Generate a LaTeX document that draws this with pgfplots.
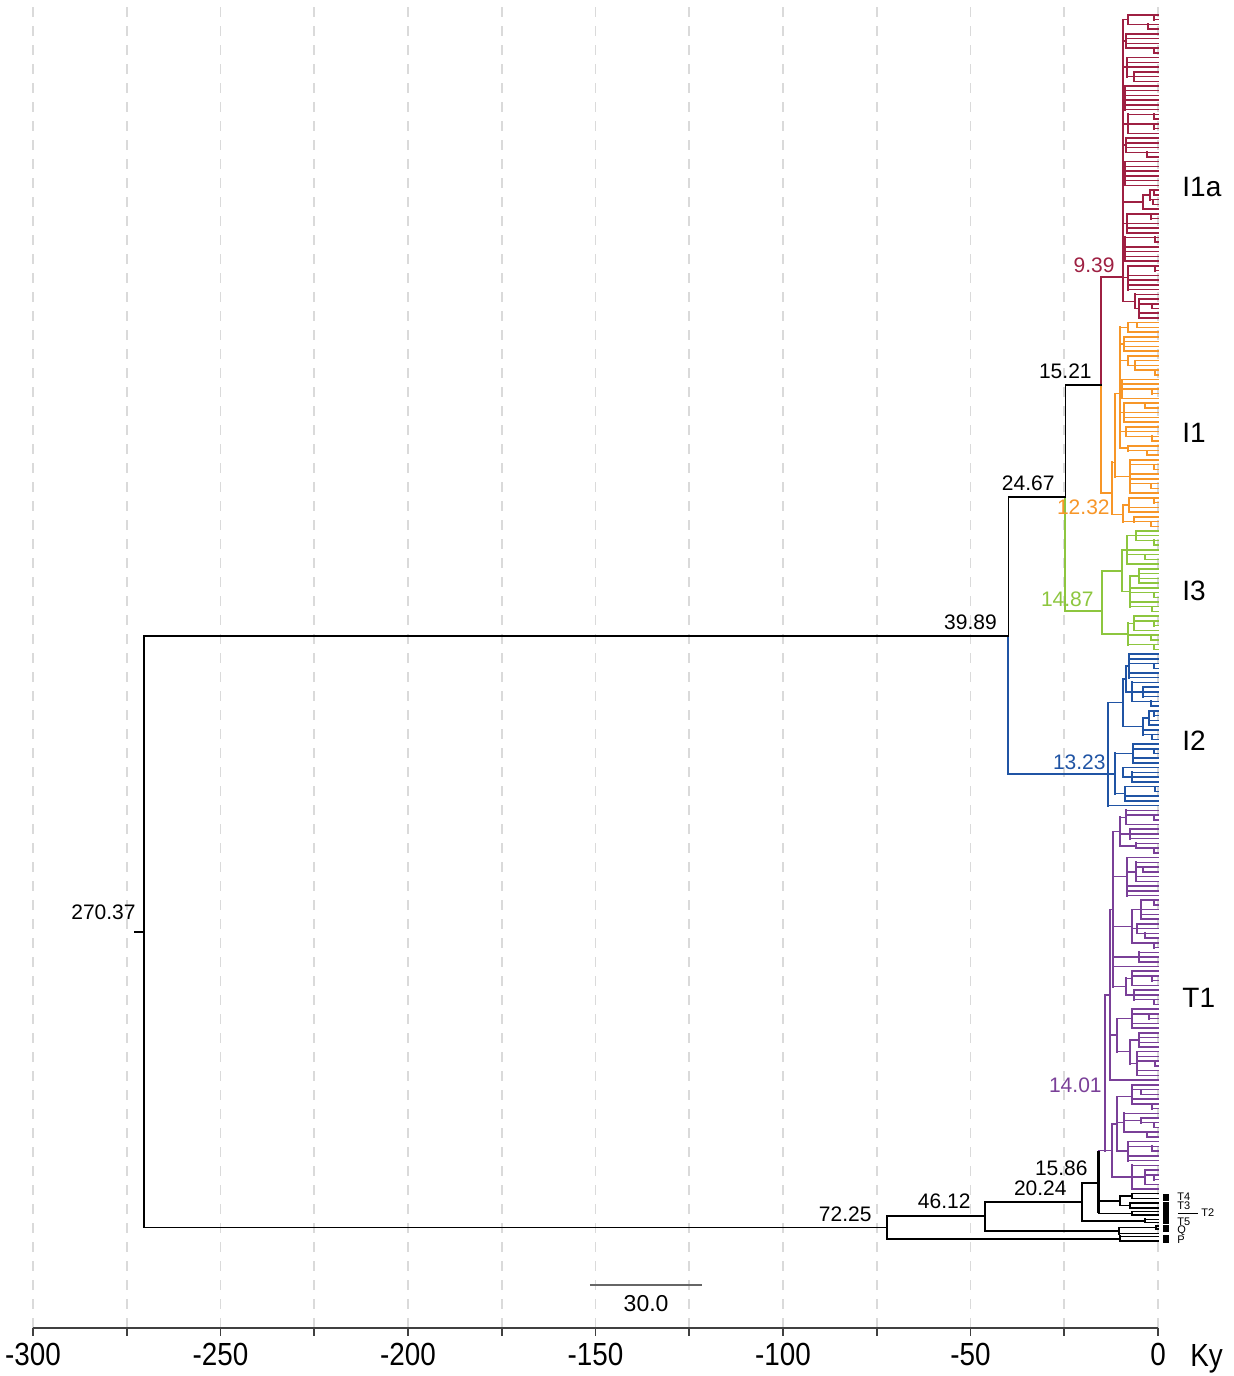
\documentclass[border=0pt]{standalone}
\usepackage{pgfplots}
\pgfplotsset{compat=1.18}
\usepackage{fontspec}
\setmainfont{Liberation Sans}
\newfontfamily\narrowsans{Liberation Sans}[FakeStretch=0.87]

\definecolor{cIa}{RGB}{158,32,66}
\definecolor{cI}{RGB}{247,150,40}
\definecolor{cIii}{RGB}{141,198,63}
\definecolor{cIi}{RGB}{32,84,164}
\definecolor{cT}{RGB}{122,64,152}
\definecolor{gridgray}{RGB}{218,218,218}

% leaf: horizontal line from the attachment height x to the tips at 0
% vseg: vertical line at x from row a to row b
% hseg: horizontal line at row y from x=a to x=b
\pgfplotsset{
  leaf/.style={quiver={u=-\thisrow{x},v=0}},
  vseg/.style={quiver={u=0,v=\thisrow{a}-\thisrow{b}}},
  hseg/.style={quiver={u=\thisrow{b}-\thisrow{a},v=0}},
  tree/.style={line width=0.75pt, line cap=rect},
  stem/.style={line width=1pt, line cap=rect},
  bone/.style={line width=0.85pt, line cap=rect},
}
\tikzset{
  valfont/.style={font=\fontsize{10.5}{12}\selectfont, inner sep=0pt},
  cladefont/.style={font=\fontsize{14}{16}\selectfont, inner sep=0pt},
  tipfont/.style={font=\fontsize{5.5}{6.5}\selectfont, inner sep=0pt},
}

\begin{document}
\begin{tikzpicture}
\useasboundingbox (-16.5pt,-24pt) rectangle (600.5pt,664pt);
\begin{axis}[
  at={(0,0)}, anchor=south west,
  scale only axis, width=562.5pt, height=664pt,
  xmin=-300, xmax=0, ymin=-278.36, ymax=2.17,
  axis x line*=bottom, axis y line=none,
  x axis line style={draw=black!75, line width=1pt, -},
  xtick={-300,-275,...,0},
  xticklabels={-300,,-250,,-200,,-150,,-100,,-50,,0},
  tick align=outside, major tick length=4pt,
  every tick/.style={draw=black!75, line width=0.8pt},
  xmajorgrids,
  grid style={draw=gridgray, dash pattern=on 5pt off 4.5pt, line width=0.8pt},
  xticklabel style={font=\narrowsans\fontsize{16}{16}\selectfont},
  clip=false,
]

% ---------------- I1a ----------------
\addplot[tree, cIa, leaf] table[x=x, y expr=-\thisrow{y}] {
y x
1 -8.0
2 -1.2
3 -8.0
4 -2.8
5 -8.6
6 -8.6
7 -8.6
8 -8.6
9 -1.0
10 -8.2
11 -8.2
12 -8.2
13 -6.5
14 -6.5
15 -6.5
16 -8.7
17 -8.7
18 -8.7
19 -8.7
20 -8.7
21 -8.7
22 -8.0
23 -1.0
24 -8.0
25 -1.0
26 -8.0
27 -8.5
28 -8.5
29 -8.5
30 -8.5
31 -3.0
32 -8.8
33 -8.8
34 -8.8
35 -8.8
36 -8.8
37 -8.8
38 -2.2
39 -1.0
40 -2.2
41 -1.3
42 -4.0
43 -8.3
44 -2.0
45 -8.3
46 -8.3
47 -8.3
48 -8.7
49 -0.8
50 -8.7
51 -8.7
52 -8.7
53 -8.7
54 -8.1
55 -0.8
56 -8.1
57 -8.1
58 -8.1
59 -8.1
60 -6.1
61 -5.0
62 -5.0
63 -1.5
64 -5.0
65 -5.0
};
\addplot[stem, cIa, vseg] table[x=x, y expr=-\thisrow{a}] {
x a b
-15.21 56.3 79.2
-9.39 2 61.5
-8.0 1 3
-1.2 1 2
-2.8 3 4
-8.6 5 8
-1.0 8 9
-8.2 10 14
-6.5 13 15
-8.7 16 21
-8.0 22 26
-1.0 22 23
-1.0 24 25
-8.5 27 30
-3.0 30 31
-8.8 32 37
-4.0 39 42
-2.2 38 40
-1.0 38 39
-1.3 40 41
-8.3 43 47
-2.0 43 44
-8.7 48 53
-0.8 48 49
-8.1 54 59
-0.8 54 55
-6.1 60 63
-5.0 61 65
-1.5 62 63
};
\addplot[tree, cIa, hseg] table[x=a, y expr=-\thisrow{y}] {
y a b
56.3 -15.21 -9.39
2 -9.39 -8.0
6.5 -9.39 -8.6
12 -9.39 -8.2
14 -8.2 -6.5
18.5 -9.39 -8.7
24 -9.39 -8.0
28.5 -9.39 -8.5
34.5 -9.39 -8.8
40.5 -9.39 -4.0
39 -4.0 -2.2
45 -9.39 -8.3
50.5 -9.39 -8.7
56.5 -9.39 -8.1
61.5 -9.39 -6.1
63 -6.1 -5.0
};

% ---------------- I1 ----------------
\addplot[tree, cI, leaf] table[x=x, y expr=-\thisrow{y}] {
y x
66 -8.0
67 -5.6
68 -8.0
69 -9.0
70 -9.0
71 -9.0
72 -9.0
73 -8.0
74 -6.1
75 -6.1
76 -6.1
77 -0.8
78 -9.5
79 -9.5
80 -9.5
81 -1.5
82 -9.5
83 -9.0
84 -3.5
85 -9.0
86 -9.0
87 -9.0
88 -8.5
89 -8.5
90 -8.5
91 -1.5
92 -8.0
93 -8.0
94 -3.0
95 -7.5
96 -7.5
97 -1.0
98 -7.5
99 -7.5
100 -7.5
101 -2.0
102 -7.5
103 -7.8
104 -1.0
105 -7.8
106 -7.8
107 -6.5
108 -6.5
109 -2.0
};
\addplot[stem, cI, vseg] table[x=x, y expr=-\thisrow{a}] {
x a b
-15.21 79.2 102
-12.32 95.5 106.5
-11.4 81 98.5
-10.2 67 92.5
-8.0 66 68
-5.6 66 67
-9.0 69 72
-8.0 73 75
-6.1 74 76
-0.8 76 77
-9.5 78 82
-1.5 80 81
-9.0 83 87
-3.5 83 84
-8.5 88 90
-1.5 90 91
-8.0 92 93
-3.0 93 94
-7.5 95 102
-1.0 96 97
-2.0 100 101
-9.3 104.5 108
-7.8 103 106
-1.0 103 104
-6.5 107 108
-2.0 108 109
};
\addplot[tree, cI, hseg] table[x=a, y expr=-\thisrow{y}] {
y a b
102 -15.21 -12.32
95.5 -12.32 -11.4
106.5 -12.32 -9.3
81 -11.4 -10.2
98.5 -11.4 -7.5
67 -10.2 -8.0
70.5 -10.2 -9.0
74 -10.2 -8.0
75 -8.0 -6.1
80 -10.2 -9.5
85 -10.2 -9.0
89 -10.2 -8.5
92.5 -10.2 -8.0
104.5 -9.3 -7.8
108 -9.3 -6.5
};

% ---------------- I3 ----------------
\addplot[tree, cIii, leaf] table[x=x, y expr=-\thisrow{y}] {
y x
110 -6.0
111 -6.0
112 -6.0
113 -1.0
114 -8.3
115 -8.3
116 -3.5
117 -8.3
118 -5.0
119 -5.0
120 -5.0
121 -5.0
122 -7.5
123 -7.5
124 -1.0
125 -7.5
126 -7.5
127 -1.5
128 -6.5
129 -6.5
130 -1.0
131 -6.5
132 -8.0
133 -2.0
134 -8.0
135 -1.0
};
\addplot[stem, cIii, vseg] table[x=x, y expr=-\thisrow{a}] {
x a b
-24.67 102.8 126.9
-14.87 118.4 131.75
-9.6 114 122.75
-8.3 111 117
-6.0 110 112
-1.0 112 113
-3.5 115 116
-7.5 119.5 126
-5.0 118 121
-1.0 123 124
-1.5 126 127
-8.0 129.5 134
-6.5 128 131
-1.0 129 130
-2.0 132 133
-1.0 134 135
};
\addplot[tree, cIii, hseg] table[x=a, y expr=-\thisrow{y}] {
y a b
126.9 -24.67 -14.87
118.4 -14.87 -9.6
131.75 -14.87 -8.0
114 -9.6 -8.3
122.75 -9.6 -7.5
111 -8.3 -6.0
119.5 -7.5 -5.0
129.5 -8.0 -6.5
};

% ---------------- I2 ----------------
\addplot[tree, cIi, leaf] table[x=x, y expr=-\thisrow{y}] {
y x
136 -7.8
137 -7.8
138 -7.8
139 -1.0
140 -7.8
141 -7.8
142 -7.0
143 -4.0
144 -4.0
145 -4.0
146 -7.0
147 -2.0
148 -2.5
149 -1.0
150 -2.5
151 -2.5
152 -4.0
153 -4.0
154 -1.5
155 -6.7
156 -6.7
157 -1.0
158 -6.7
159 -6.7
160 -9.3
161 -7.0
162 -7.0
163 -7.0
164 -8.7
165 -0.8
166 -8.7
167 -8.7
168 -13.23
};
\addplot[stem, cIi, vseg] table[x=x, y expr=-\thisrow{a}] {
x a b
-39.89 132.2 161.3
-13.23 146.25 168
-9.3 141.25 151.25
-8.5 138.5 144
-7.8 136 141
-1.0 138 139
-7.0 142 146
-4.0 143 145
-2.0 146 147
-4.0 149.5 153
-2.5 148 151
-1.0 148 149
-1.5 153 154
-11.4 157 165.5
-6.7 155 159
-1.0 156 157
-9.3 160 162
-7.0 161 163
-8.7 164 167
-0.8 164 165
};
\addplot[tree, cIi, hseg] table[x=a, y expr=-\thisrow{y}] {
y a b
161.3 -39.89 -11.4
146.25 -13.23 -9.3
141.25 -9.3 -8.5
151.25 -9.3 -4.0
138.5 -8.5 -7.8
144 -8.5 -4.0
149.5 -4.0 -2.5
157 -11.4 -6.7
162 -9.3 -7.0
165.5 -11.4 -8.7
};

% ---------------- T1 ----------------
\addplot[tree, cT, leaf] table[x=x, y expr=-\thisrow{y}] {
y x
169 -8.5
170 -8.5
171 -1.0
172 -8.5
173 -7.5
174 -7.5
175 -7.5
176 -6.0
177 -6.0
178 -1.2
179 -8.3
180 -6.0
181 -6.0
182 -4.0
183 -6.0
184 -6.0
185 -8.3
186 -8.3
187 -8.3
188 -4.5
189 -1.0
190 -4.5
191 -4.5
192 -4.5
193 -5.5
194 -5.5
195 -5.5
196 -3.5
197 -7.0
198 -1.0
199 -5.0
200 -5.0
201 -5.0
202 -12.0
203 -7.0
204 -7.0
205 -1.5
206 -7.0
207 -6.5
208 -6.5
209 -6.5
210 -1.0
211 -7.0
212 -7.0
213 -2.5
214 -7.0
215 -7.0
216 -5.0
217 -5.0
218 -5.0
219 -5.0
220 -5.5
221 -5.5
222 -5.5
223 -0.8
224 -5.5
225 -5.5
226 -12.9
227 -7.0
228 -7.0
229 -4.5
230 -7.0
231 -7.0
232 -1.5
233 -9.0
234 -4.5
235 -4.5
236 -1.0
237 -9.0
238 -3.0
239 -8.0
240 -8.0
241 -1.5
242 -8.0
243 -8.0
244 -7.0
245 -3.5
246 -3.5
247 -1.0
248 -3.5
249 -7.0
};
\addplot[stem, cT, vseg] table[x=x, y expr=-\thisrow{a}] {
x a b
-14.01 208 240.9
-12.9 190 226
-12.0 173.5 206.25
-10.1 170.5 176.5
-8.5 169 172
-1.0 170 171
-7.5 173 175
-6.0 176 177
-1.2 177 178
-8.3 179 187
-6.0 180 184
-4.0 181 182
-7.0 190 197
-4.5 188 192
-1.0 188 189
-5.5 193 195
-3.5 195 196
-1.0 197 198
-5.0 199 201
-8.5 204.5 208
-7.0 203 206
-1.5 204 205
-6.5 207 209
-1.0 209 210
-11.0 213 220
-7.0 211 215
-2.5 212 213
-7.5 217.5 222.5
-5.0 216 219
-5.5 220 225
-0.8 222 223
-12.3 235.25 246.5
-11.0 229.5 241
-7.0 227 231
-4.5 228 229
-1.5 231 232
-9.0 233 237
-4.5 234 235
-1.0 235 236
-3.0 237 238
-8.0 239 243
-1.5 240 241
-7.0 244 249
-3.5 245 248
-1.0 246 247
};
\addplot[tree, cT, hseg] table[x=a, y expr=-\thisrow{y}] {
y a b
240.9 -15.86 -12.3
208 -14.01 -12.9
190 -12.9 -12.0
216.5 -12.9 -11.0
173.5 -12.0 -10.1
183 -12.0 -8.3
193.5 -12.0 -7.0
200 -12.0 -5.0
206.25 -12.0 -8.5
170.5 -10.1 -8.5
174 -10.1 -7.5
176.5 -10.1 -6.0
182 -8.3 -6.0
190 -7.0 -4.5
194 -7.0 -5.5
204.5 -8.5 -7.0
208 -8.5 -6.5
213 -11.0 -7.0
220 -11.0 -7.5
217.5 -7.5 -5.0
222.5 -7.5 -5.5
235.25 -12.3 -11.0
246.5 -12.3 -3.5
229.5 -11.0 -7.0
235 -11.0 -9.0
241 -11.0 -8.0
234.5 -9.0 -4.5
};

% ---------------- backbone and outgroups ----------------
\addplot[tree, black, leaf] table[x=x, y expr=-\thisrow{y}] {
y x
250 -7.0
251 -7.0
252 -7.5
253 -7.5
253.8 -7.0
254.5 -7.0
255.4 -3.5
256.1 -3.5
256.85 -0.6
257.45 -0.6
258.45 -10.4
259 -10.1
260 -10.1
};
\addplot[bone, black, vseg] table[x=x, y expr=-\thisrow{a}] {
x a b
-270.37 132.2 257.1
-39.89 102.8 132.2
-24.67 79.2 102.8
-20.24 247.7 255.75
-46.12 251.7 257.8
-72.25 254.75 259.5
-10.1 250.5 252.5
-7.0 250 251
-7.5 252 253
-7.0 253.8 254.5
-3.5 255.4 256.1
-10.4 257.15 258.45
-0.6 256.85 257.45
-10.1 259 260
};
\addplot[line width=1.5pt, black, vseg] table[x=x, y expr=-\thisrow{a}] {
x a b
-15.86 240.9 254.15
};
\addplot[bone, black, hseg] table[x=a, y expr=-\thisrow{y}] {
y a b
132.2 -270.37 -39.89
257.1 -270.37 -72.25
194.65 -272.8 -270.37
102.8 -39.89 -24.67
79.2 -24.67 -15.21
247.7 -20.24 -15.86
251.5 -15.86 -10.1
250.5 -10.1 -7.0
252.5 -10.1 -7.5
254.15 -15.86 -7.0
255.75 -20.24 -3.5
251.7 -46.12 -20.24
257.8 -46.12 -10.4
257.15 -10.4 -0.6
254.75 -72.25 -46.12
259.5 -72.25 -10.1
};

% outgroup tags
\addplot[only marks, mark=square*, mark size=1.3pt, black,
  mark options={yscale=1.25}] coordinates {
(2.0,-250.8) (2.0,-252.6) (2.0,-254.3) (2.0,-255.65) (2.0,-257.3) (2.0,-259.55)
};
\addplot[black, line width=0.4pt] coordinates {(5.33,-254.1) (10.67,-254.1)};

% scale bar
\addplot[black!60, line width=1pt] coordinates {(-151.5,-269.3) (-121.5,-269.3)};
\node[font=\fontsize{11.5}{13}\selectfont] at (axis cs:-136.5,-273.1) {30.0};

% node ages
\node[valfont, anchor=east] at (axis cs:-272.53,-190.5) {270.37};
\node[valfont, anchor=east] at (axis cs:-42.9,-129.2) {39.89};
\node[valfont, anchor=east] at (axis cs:-27.5,-99.9) {24.67};
\node[valfont, anchor=east] at (axis cs:-17.6,-76.2) {15.21};
\node[valfont, anchor=east, text=cIa] at (axis cs:-11.47,-53.8) {9.39};
\node[valfont, anchor=east, text=cI] at (axis cs:-12.8,-104.9) {12.32};
\node[valfont, anchor=east, text=cIii] at (axis cs:-17.07,-124.4) {14.87};
\node[valfont, anchor=east, text=cIi] at (axis cs:-13.87,-158.8) {13.23};
\node[valfont, anchor=east, text=cT] at (axis cs:-14.93,-227.0) {14.01};
\node[valfont, anchor=east] at (axis cs:-18.67,-244.6) {15.86};
\node[valfont, anchor=east] at (axis cs:-24.27,-248.8) {20.24};
\node[valfont, anchor=east] at (axis cs:-49.9,-251.5) {46.12};
\node[valfont, anchor=east] at (axis cs:-76.3,-254.3) {72.25};

% clade names
\node[cladefont, anchor=west] at (axis cs:6.4,-37.3) {I1a};
\node[cladefont, anchor=west] at (axis cs:6.4,-89.3) {I1};
\node[cladefont, anchor=west] at (axis cs:6.4,-122.7) {I3};
\node[cladefont, anchor=west] at (axis cs:6.4,-154.4) {I2};
\node[cladefont, anchor=west] at (axis cs:6.4,-208.7) {T1};

% outgroup names
\node[tipfont, anchor=west] at (axis cs:5.07,-250.6) {T4};
\node[tipfont, anchor=west] at (axis cs:5.07,-252.5) {T3};
\node[tipfont, anchor=west] at (axis cs:11.47,-254.1) {T2};
\node[tipfont, anchor=west] at (axis cs:5.07,-255.85) {T5};
\node[tipfont, anchor=west] at (axis cs:5.07,-257.8) {Q};
\node[tipfont, anchor=west] at (axis cs:5.07,-259.8) {P};

% unit
\node[font=\narrowsans\fontsize{16}{16}\selectfont, anchor=base west, inner sep=0pt]
  at (axis cs:8.5,-278.36) [yshift=-19.5pt] {Ky};
\end{axis}
\end{tikzpicture}
\end{document}
